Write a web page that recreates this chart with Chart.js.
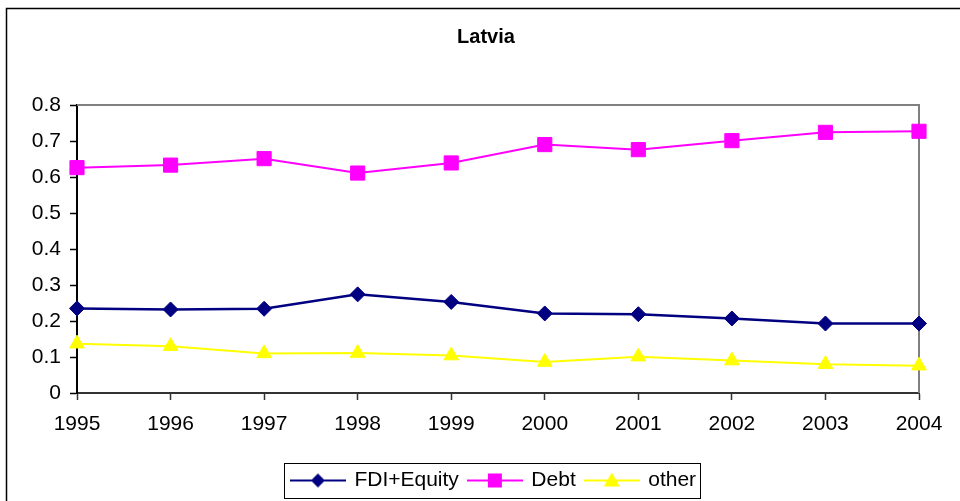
<!DOCTYPE html>
<html>
<head>
<meta charset="utf-8">
<title>Latvia</title>
<script src="https://cdn.jsdelivr.net/npm/chart.js"></script>
<style>
  body { margin: 0; background: #fff; }
  #wrap { width: 960px; height: 501px; }
</style>
</head>
<body>
<div id="wrap"><canvas id="chartLatvia" width="960" height="501"></canvas></div>
<script>
const years = ['1995', '1996', '1997', '1998', '1999', '2000', '2001', '2002', '2003', '2004']
const fdiEquity = [0.235, 0.232, 0.234, 0.274, 0.253, 0.221, 0.219, 0.207, 0.193, 0.193]
const debt = [0.626, 0.633, 0.651, 0.611, 0.639, 0.690, 0.676, 0.701, 0.724, 0.727]
const other = [0.137, 0.130, 0.110, 0.111, 0.104, 0.086, 0.101, 0.090, 0.080, 0.076]
const yTicks = [0, 0.1, 0.2, 0.3, 0.4, 0.5, 0.6, 0.7, 0.8]

Chart.defaults.font.family = '"Liberation Sans", Arial, sans-serif'
Chart.defaults.font.size = 21
Chart.defaults.color = '#000'

// line + marker icon for the legend, like the Excel legend
function legendIcon(color, shape) {
    const c = document.createElement('canvas')
    c.width = 56
    c.height = 20
    const g = c.getContext('2d')
    g.strokeStyle = color
    g.lineWidth = 2
    g.beginPath()
    g.moveTo(0, 10)
    g.lineTo(56, 10)
    g.stroke()
    g.fillStyle = color
    g.beginPath()
    if (shape === 'rectRot') {
        g.moveTo(21, 10); g.lineTo(28, 3); g.lineTo(35, 10); g.lineTo(28, 17)
    } else if (shape === 'rect') {
        g.rect(21, 3, 14, 14)
    } else {
        g.moveTo(28, 2); g.lineTo(36, 16); g.lineTo(20, 16)
    }
    g.closePath()
    g.fill()
    return c
}

const icons = [
    legendIcon('#000080', 'rectRot'),
    legendIcon('#FF00FF', 'rect'),
    legendIcon('#FFFF00', 'triangle'),
]

const framePlugin = {
    id: 'frame',
    afterLayout(chart) {
        // legend sits a bit right of centre in the original
        chart.legend.left += 8
        chart.legend.right += 8
    },
    beforeDatasetsDraw(chart) {
        const {ctx, chartArea: a} = chart
        ctx.save()
        ctx.strokeStyle = '#808080'
        ctx.lineWidth = 2
        ctx.beginPath()
        ctx.moveTo(a.left, a.top)
        ctx.lineTo(a.right, a.top)
        ctx.lineTo(a.right, a.bottom)
        ctx.stroke()
        ctx.restore()
    },
    afterDraw(chart) {
        const ctx = chart.ctx
        ctx.save()
        // outer chart frame (only top and left visible)
        ctx.strokeStyle = '#000'
        ctx.lineWidth = 1.5
        ctx.beginPath()
        ctx.moveTo(960, 8.5)
        ctx.lineTo(6.5, 8.5)
        ctx.lineTo(6.5, 501)
        ctx.stroke()
        // legend box
        const hb = chart.legend.legendHitBoxes
        if (hb && hb.length) {
            const first = hb[0]
            const last = hb[hb.length - 1]
            const cy = first.top + first.height / 2
            ctx.lineWidth = 1
            ctx.strokeRect(Math.round(first.left - 8) + 0.5, Math.round(cy - 18) + 0.5,
                Math.round(last.left + last.width - first.left + 12), 35)
        }
        ctx.restore()
    },
}

const dataLatvia = {
    labels: years,
    datasets: [
        {
            label: 'FDI+Equity',
            data: fdiEquity,
            borderColor: '#000080',
            backgroundColor: '#000080',
            borderWidth: 2.5,
            pointStyle: 'rectRot',
            pointRadius: 7.5,
            pointHoverRadius: 7.5,
            pointBorderWidth: 1,
            tension: 0,
            clip: false,
        },
        {
            label: 'Debt',
            data: debt,
            borderColor: '#FF00FF',
            backgroundColor: '#FF00FF',
            borderWidth: 2,
            pointStyle: 'rect',
            pointRadius: 10,
            pointHoverRadius: 10,
            pointBorderWidth: 1,
            tension: 0,
            clip: false,
        },
        {
            label: 'other',
            data: other,
            borderColor: '#FFFF00',
            backgroundColor: '#FFFF00',
            borderWidth: 2,
            pointStyle: 'triangle',
            pointRadius: 8.5,
            pointHoverRadius: 8.5,
            pointBorderWidth: 1,
            tension: 0,
            clip: false,
        },
    ],
}

const configLatvia = {
    type: 'line',
    data: dataLatvia,
    options: {
        responsive: false,
        animation: false,
        layout: { padding: { top: 8, left: 12, right: 0, bottom: 0 } },
        plugins: {
            title: {
                display: true,
                text: 'Latvia',
                font: { size: 20, weight: 'bold' },
                padding: { top: 17, bottom: 56 },
            },
            legend: {
                position: 'bottom',
                maxHeight: 42,
                labels: {
                    usePointStyle: true,
                    pointStyleWidth: 52,
                    padding: 10,
                    generateLabels(chart) {
                        const items = Chart.defaults.plugins.legend.labels.generateLabels(chart)
                        items.forEach((it, i) => { it.pointStyle = icons[i] })
                        return items
                    },
                },
            },
            tooltip: { enabled: false },
        },
        scales: {
            x: {
                offset: false,
                grid: { drawOnChartArea: false, tickLength: 7, tickColor: '#333', tickWidth: 1.5 },
                border: { color: '#333', width: 2 },
                ticks: { padding: 12, maxRotation: 0, autoSkip: false },
                afterFit(s) { s.height = 67 },
            },
            y: {
                min: 0,
                max: 0.8,
                grid: { drawOnChartArea: false, tickLength: 7, tickColor: '#000', tickWidth: 1.5 },
                border: { color: '#000', width: 2 },
                ticks: { stepSize: 0.1, padding: 9 },
                afterBuildTicks(s) { s.ticks = yTicks.map(v => ({ value: v })) },
                afterFit(s) { s.width = 65 },
            },
            yRight: {
                position: 'right',
                display: true,
                grid: { display: false },
                border: { display: false },
                ticks: { display: false },
                afterFit(s) { s.width = 41 },
            },
        },
    },
    plugins: [framePlugin],
}

var chartLatvia = new Chart(document.getElementById('chartLatvia'), configLatvia)
</script>
</body>
</html>
